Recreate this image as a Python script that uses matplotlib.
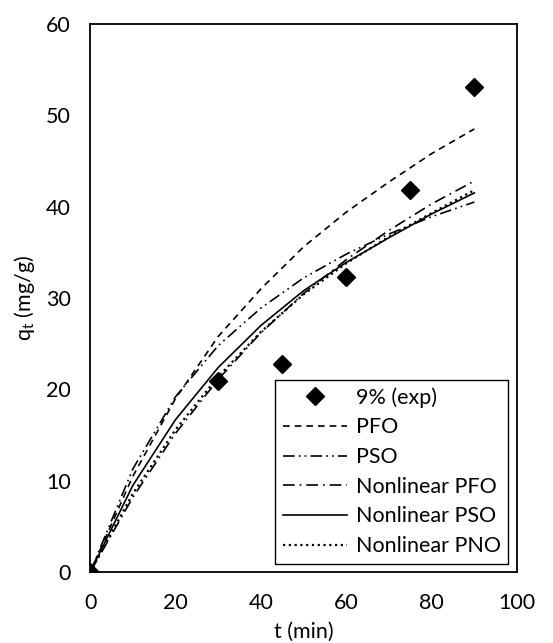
import numpy as np
import matplotlib.pyplot as plt

# experimental points, 9% sample
t_exp = [0, 30, 45, 60, 75, 90]
q_exp = [0, 20.9, 22.8, 32.3, 41.8, 53.1]

# model curves
t_fit = [0, 10, 20, 30, 40, 50, 60, 70, 80, 90]
q_pfo = [0, 10.5, 19.0, 25.8, 31.0, 35.6, 39.4, 42.7, 45.8, 48.5]
q_pso = [0, 11.3, 19.2, 24.8, 28.9, 32.2, 34.8, 37.0, 38.9, 40.5]
q_nlpfo = [0, 8.2, 15.2, 21.1, 26.2, 30.5, 34.2, 37.4, 40.3, 42.8]
q_nlpso = [0, 9.5, 16.7, 22.4, 27.0, 30.8, 33.9, 36.6, 39.2, 41.5]
q_nlpno = [0, 8.6, 15.6, 21.4, 26.3, 30.4, 33.8, 36.7, 39.3, 41.8]

plt.rcParams['font.family'] = ['Lato', 'DejaVu Sans']
fs = 15.5

fig = plt.figure(figsize=(5.53, 6.43), dpi=100)
ax = fig.add_axes([0.163, 0.110, 0.772, 0.853])

lw = 1.2
ax.plot(t_exp, q_exp, 'D', color='black', ms=9, label='9% (exp)', zorder=5)
ax.plot(t_fit, q_pfo, color='black', lw=lw, ls=(0, (4, 3)), label='PFO')
ax.plot(t_fit, q_pso, color='black', lw=lw, ls=(0, (7, 2.5, 1, 2.5, 1, 2.5)), label='PSO')
ax.plot(t_fit, q_nlpfo, color='black', lw=lw, ls=(0, (7, 3, 1, 3)), label='Nonlinear PFO')
ax.plot(t_fit, q_nlpso, color='black', lw=lw, ls='-', label='Nonlinear PSO')
ax.plot(t_fit, q_nlpno, color='black', lw=1.6, ls=(0, (1, 1.6)), label='Nonlinear PNO')

ax.set_xlim(0, 100)
ax.set_ylim(0, 60)
ax.set_xticks(np.arange(0, 101, 20))
ax.set_yticks(np.arange(0, 61, 10))
ax.tick_params(length=0, labelsize=fs)
ax.tick_params(axis='x', pad=15)
ax.tick_params(axis='y', pad=14)
for s in ax.spines.values():
    s.set_linewidth(1.3)
    s.set_color('black')

ax.set_xlabel('t (min)', fontsize=fs, labelpad=6)
ax.set_ylabel(r'q$_\mathregular{t}$ (mg/g)', fontsize=fs, labelpad=6)

leg = ax.legend(loc='lower right', fontsize=fs, borderaxespad=0.4, fancybox=False,
                edgecolor='black', framealpha=1, handlelength=3.0,
                labelspacing=0.45, borderpad=0.35, handletextpad=0.4)
leg.get_frame().set_linewidth(1.0)

fig.savefig('out.png', dpi=100)
